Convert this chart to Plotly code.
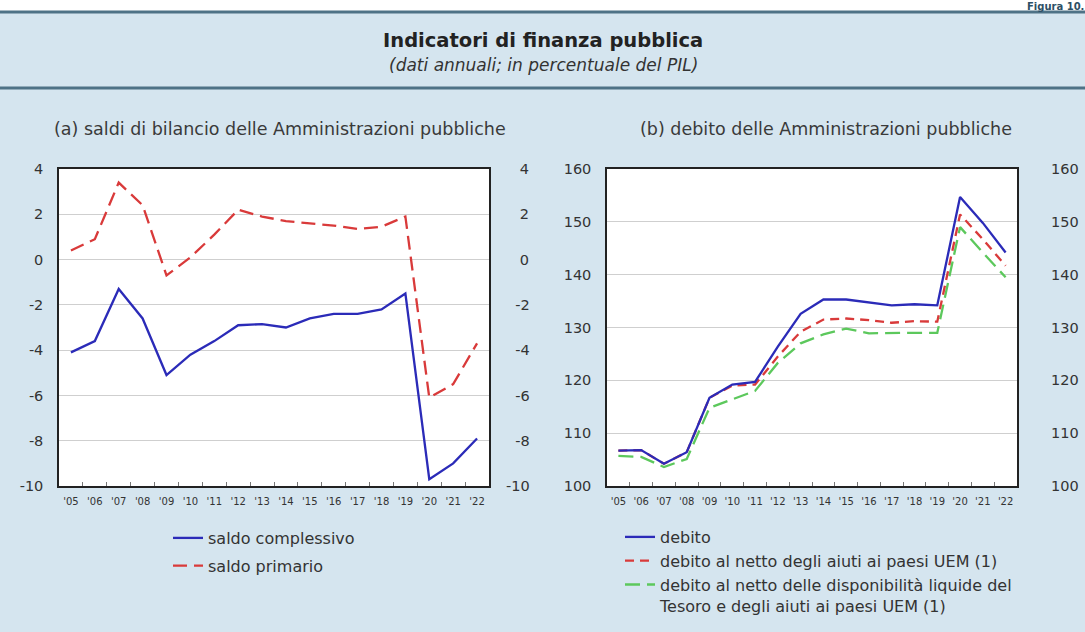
import plotly.graph_objects as go

# dati annuali, in percentuale del PIL
anni = ["'05", "'06", "'07", "'08", "'09", "'10", "'11", "'12", "'13",
        "'14", "'15", "'16", "'17", "'18", "'19", "'20", "'21", "'22"]

saldo_complessivo = [-4.1, -3.6, -1.3, -2.6, -5.1, -4.2, -3.6, -2.9, -2.85,
                     -3.0, -2.6, -2.4, -2.4, -2.2, -1.5, -9.7, -9.0, -7.9]
saldo_primario = [0.4, 0.9, 3.4, 2.4, -0.7, 0.1, 1.1, 2.2, 1.9,
                  1.7, 1.6, 1.5, 1.35, 1.45, 1.9, -6.1, -5.5, -3.7]

debito = [106.7, 106.8, 104.2, 106.4, 116.7, 119.2, 119.7, 126.4, 132.6,
          135.3, 135.3, 134.8, 134.2, 134.4, 134.2, 154.7, 149.8, 144.2]
debito_netto_uem = [106.7, 106.8, 104.2, 106.4, 116.7, 119.0, 119.2, 124.5, 129.2,
                    131.5, 131.7, 131.4, 130.9, 131.2, 131.1, 151.4, 146.7, 141.7]
debito_netto_liq = [105.7, 105.5, 103.6, 105.1, 114.8, 116.4, 118.0, 123.3, 127.0,
                    128.7, 129.8, 128.9, 129.0, 129.0, 129.0, 149.0, 144.2, 139.5]

# etichette degli assi
tick_saldi = [4, 2, 0, -2, -4, -6, -8, -10]
testo_saldi = ['4', '2', '0', '-2', '-4', '-6', '-8', '-10']
# a destra allineate come nell'originale (spazi tipografici)
testo_saldi_dx = ['\u2008\u20074', '\u2008\u20072', '\u2008\u20070', '\u2007-2',
                  '\u2007-4', '\u2007-6', '\u2007-8', '-10']
tick_debito = [100, 110, 120, 130, 140, 150, 160]

W, H = 1085, 632
BG = '#d5e5ef'
BLU = '#2b2bb8'
ROSSO = '#d93a3a'
VERDE = '#5cc85c'
FONT = 'DejaVu Sans, sans-serif'
GRIGIO = '#333'


def px(x):
    return x / W


def py(y):
    return 1 - y / H


fig = go.Figure()

# (a) saldi di bilancio
fig.add_trace(go.Scatter(x=anni, y=saldo_complessivo, mode='lines', name='saldo complessivo',
                         line=dict(color=BLU, width=2.3), xaxis='x', yaxis='y',
                         legend='legend', legendgroup='a1'))
fig.add_trace(go.Scatter(x=anni, y=saldo_primario, mode='lines', name='saldo primario',
                         line=dict(color=ROSSO, width=2.3, dash='14px,7px'), xaxis='x', yaxis='y',
                         legend='legend', legendgroup='a2'))
fig.add_trace(go.Scatter(x=anni, y=[None] * len(anni), mode='lines', showlegend=False,
                         hoverinfo='skip', xaxis='x', yaxis='y2'))

# (b) debito
fig.add_trace(go.Scatter(x=anni, y=debito_netto_liq, mode='lines',
                         name='debito al netto delle disponibilità liquide del<br>Tesoro e degli aiuti ai paesi UEM (1)',
                         line=dict(color=VERDE, width=2.3, dash='15px,7px'), xaxis='x3', yaxis='y3',
                         legend='legend2', legendgroup='b3', legendrank=3))
fig.add_trace(go.Scatter(x=anni, y=debito_netto_uem, mode='lines',
                         name='debito al netto degli aiuti ai paesi UEM (1)',
                         line=dict(color=ROSSO, width=2.3, dash='9px,6px'), xaxis='x3', yaxis='y3',
                         legend='legend2', legendgroup='b2', legendrank=2))
fig.add_trace(go.Scatter(x=anni, y=debito, mode='lines', name='debito',
                         line=dict(color=BLU, width=2.3), xaxis='x3', yaxis='y3',
                         legend='legend2', legendgroup='b1', legendrank=1))
fig.add_trace(go.Scatter(x=anni, y=[None] * len(anni), mode='lines', showlegend=False,
                         hoverinfo='skip', xaxis='x3', yaxis='y4'))

xcomune = dict(type='category', range=[-0.5, len(anni) - 0.5], tickson='boundaries',
               ticks='inside', ticklen=4, tickcolor='#777', tickwidth=1, tickangle=0,
               showgrid=False, showline=True, mirror=True, linecolor='#222', linewidth=1.5,
               ticklabelstandoff=5,
               tickfont=dict(size=10, color=GRIGIO, family=FONT), fixedrange=True)
ycomune = dict(showgrid=True, gridcolor='#cfcfcf', gridwidth=1.2, zeroline=False,
               ticks='', showline=True, mirror=True, linecolor='#222', linewidth=1.5,
               ticklabelstandoff=11,
               tickfont=dict(size=14.5, color=GRIGIO, family=FONT), fixedrange=True)
ydestra = dict(side='right', showgrid=False, zeroline=False, ticks='',
               tickfont=dict(size=14.5, color=GRIGIO, family=FONT), fixedrange=True)

dom_y = [py(486), py(169)]

fig.update_layout(
    width=W, height=H,
    margin=dict(l=0, r=0, t=0, b=0, autoexpand=False),
    paper_bgcolor=BG,
    plot_bgcolor='white',
    font=dict(family=FONT, color=GRIGIO),
    xaxis=dict(xcomune, domain=[px(59), px(489)], anchor='y'),
    yaxis=dict(ycomune, domain=dom_y, anchor='x', range=[-10, 4],
               tickvals=tick_saldi, ticktext=testo_saldi),
    yaxis2=dict(ydestra, range=[-10, 4], overlaying='y', anchor='x',
                tickvals=tick_saldi, ticktext=testo_saldi_dx, ticklabelstandoff=16),
    xaxis3=dict(xcomune, domain=[px(607), px(1017)], anchor='y3'),
    yaxis3=dict(ycomune, domain=dom_y, anchor='x3', range=[100, 160], tickvals=tick_debito),
    yaxis4=dict(ydestra, range=[100, 160], overlaying='y3', anchor='x3',
                tickvals=tick_debito, ticklabelstandoff=33),
    legend=dict(x=px(168), y=py(521), xanchor='left', yanchor='top',
                bgcolor='rgba(0,0,0,0)', traceorder='grouped', tracegroupgap=4,
                font=dict(size=16, color=GRIGIO, family=FONT), itemwidth=30),
    legend2=dict(x=px(620), y=py(520), xanchor='left', yanchor='top', valign='top',
                 bgcolor='rgba(0,0,0,0)', traceorder='grouped', tracegroupgap=0,
                 font=dict(size=16, color=GRIGIO, family=FONT), itemwidth=30),
    showlegend=True,
)

# fascia bianca in alto e filetti
fig.add_shape(type='rect', xref='paper', yref='paper', x0=0, x1=1, y0=py(11), y1=1,
              fillcolor='white', line_width=0, layer='below')
for yy in (12, 88):
    fig.add_shape(type='line', xref='paper', yref='paper', x0=0, x1=1, y0=py(yy), y1=py(yy),
                  line=dict(color='#4e7286', width=3))

fig.add_annotation(text='<b>Figura 10.</b>', xref='paper', yref='paper', x=1, y=1,
                   xanchor='right', yanchor='top', showarrow=False, borderpad=0,
                   font=dict(size=10, color='#2d4f66', family=FONT))
fig.add_annotation(text='<b>Indicatori di finanza pubblica</b>', xref='paper', yref='paper',
                   x=px(543), y=py(40), xanchor='center', yanchor='middle', showarrow=False,
                   font=dict(size=19.5, color='#222', family=FONT))
fig.add_annotation(text='<i>(dati annuali; in percentuale del PIL)</i>', xref='paper', yref='paper',
                   x=px(543), y=py(65), xanchor='center', yanchor='middle', showarrow=False,
                   font=dict(size=17, color=GRIGIO, family=FONT))
fig.add_annotation(text='(a) saldi di bilancio delle Amministrazioni pubbliche', xref='paper',
                   yref='paper', x=px(280), y=py(129), xanchor='center', yanchor='middle',
                   showarrow=False, font=dict(size=17.5, color='#3a3a3a', family=FONT))
fig.add_annotation(text='(b) debito delle Amministrazioni pubbliche', xref='paper',
                   yref='paper', x=px(826), y=py(129), xanchor='center', yanchor='middle',
                   showarrow=False, font=dict(size=17.5, color='#3a3a3a', family=FONT))

fig.write_html("out.html", config={'displayModeBar': False},
               post_script="document.body.style.margin = '0';")
